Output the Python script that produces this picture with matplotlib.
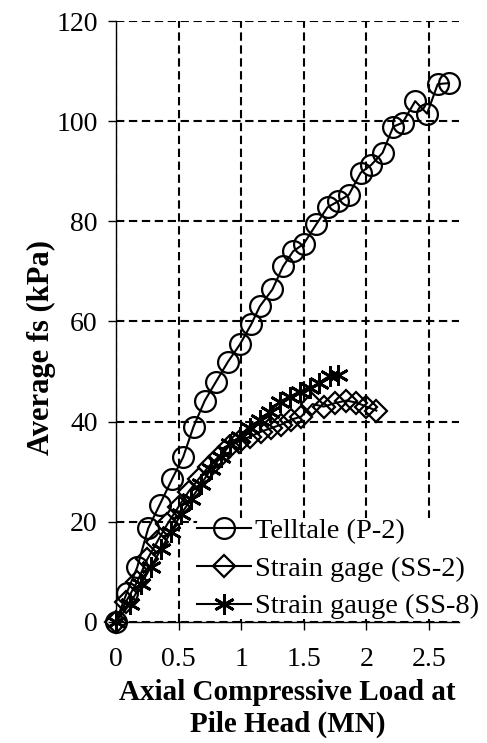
import matplotlib
matplotlib.use('Agg')
import matplotlib.pyplot as plt

plt.rcParams['font.family'] = ['Liberation Serif', 'DejaVu Serif']

# Telltale (P-2)
p2_load = [0.0, 0.085, 0.17, 0.258, 0.35, 0.45, 0.537, 0.62, 0.71, 0.80, 0.896, 0.99,
           1.08, 1.149, 1.25, 1.335, 1.415, 1.50, 1.60, 1.69, 1.775, 1.86, 1.955, 2.04,
           2.13, 2.215, 2.29, 2.39, 2.485, 2.57, 2.66]
p2_fs = [0.0, 5.7, 10.9, 18.7, 23.4, 28.6, 32.9, 39.0, 44.2, 48.0, 52.0, 55.4,
         59.4, 63.0, 66.4, 71.0, 74.0, 75.5, 79.4, 82.8, 84.0, 85.3, 89.7, 91.3,
         93.7, 98.9, 99.7, 104.0, 101.5, 107.4, 107.6]

# Strain gage (SS-2)
ss2_load = [0.0, 0.08, 0.17, 0.25, 0.33, 0.41, 0.5, 0.58, 0.66, 0.74, 0.82, 0.9, 0.98,
            1.07, 1.16, 1.24, 1.32, 1.4, 1.48, 1.57, 1.66, 1.75, 1.84, 1.92, 2.0, 2.08]
ss2_fs = [0.0, 4.0, 8.0, 12.5, 16.0, 19.5, 23.0, 26.0, 28.5, 31.0, 33.0, 35.0, 36.0,
          37.0, 38.0, 38.7, 39.4, 40.4, 41.0, 43.5, 43.0, 43.7, 44.2, 43.8, 43.0, 42.2]

# Strain gauge (SS-8)
ss8_load = [0.0, 0.11, 0.2, 0.28, 0.36, 0.44, 0.52, 0.6, 0.68, 0.76, 0.84, 0.91, 0.99,
            1.07, 1.15, 1.23, 1.31, 1.39, 1.47, 1.55, 1.62, 1.71, 1.775]
ss8_fs = [0.0, 3.5, 7.5, 11.0, 14.5, 18.0, 21.5, 24.5, 27.5, 30.5, 33.0, 35.5, 37.0,
          38.7, 40.4, 42.0, 44.0, 45.0, 46.0, 46.7, 47.7, 49.2, 49.3]

fig = plt.figure(figsize=(4.87, 7.43), dpi=100)
ax = fig.add_axes([0.238, 0.163, 0.7045, 0.8087])

ax.plot(p2_load, p2_fs, color='black', lw=1.5, marker='o', ms=15, mfc='none',
        mec='black', mew=1.6, clip_on=False, label='Telltale (P-2)', zorder=3)
ax.plot(ss2_load, ss2_fs, color='black', lw=1.5, marker='D', ms=11, mfc='none',
        mec='black', mew=1.6, clip_on=False, label='Strain gage (SS-2)', zorder=3)
ax.plot(ss8_load, ss8_fs, color='black', lw=1.5, marker=(6, 2, 0), ms=15,
        mec='black', mew=2.0, clip_on=False, label='Strain gauge (SS-8)', zorder=3)

ax.set_xlim(0, 2.74)
ax.set_ylim(0, 120)
ax.set_xticks([0, 0.5, 1, 1.5, 2, 2.5])
ax.set_xticklabels(['0', '0.5', '1', '1.5', '2', '2.5'])
ax.set_yticks(range(0, 121, 20))

ax.grid(True, color='black', linestyle=(0, (4, 2.2)), lw=1.5)
ax.set_axisbelow(True)
for s in ['top', 'right']:
    ax.spines[s].set_visible(False)
for s in ['left', 'bottom']:
    ax.spines[s].set_linewidth(1.0)
    ax.spines[s].set_zorder(6)

ax.tick_params(axis='both', direction='out', length=6, width=1, labelsize=20)
ax.tick_params(axis='x', pad=12)
ax.tick_params(axis='y', pad=7)

ax.set_ylabel('Average fs (kPa)', fontsize=22, fontweight='bold', va='center')
ax.yaxis.set_label_coords(-0.216, 0.456)
ax.set_xlabel('Axial Compressive Load at\nPile Head (MN)', fontsize=21,
              fontweight='bold', labelpad=5, linespacing=1.25)

leg = ax.legend(loc='lower left', bbox_to_anchor=(0.235, 0.004), fontsize=20.5,
                frameon=True, facecolor='white', edgecolor='none', framealpha=1,
                handlelength=1.9, handletextpad=0.15, labelspacing=0.42,
                borderpad=0.0, borderaxespad=0.0)
leg.set_zorder(5)

fig.savefig('out.png', dpi=100)
